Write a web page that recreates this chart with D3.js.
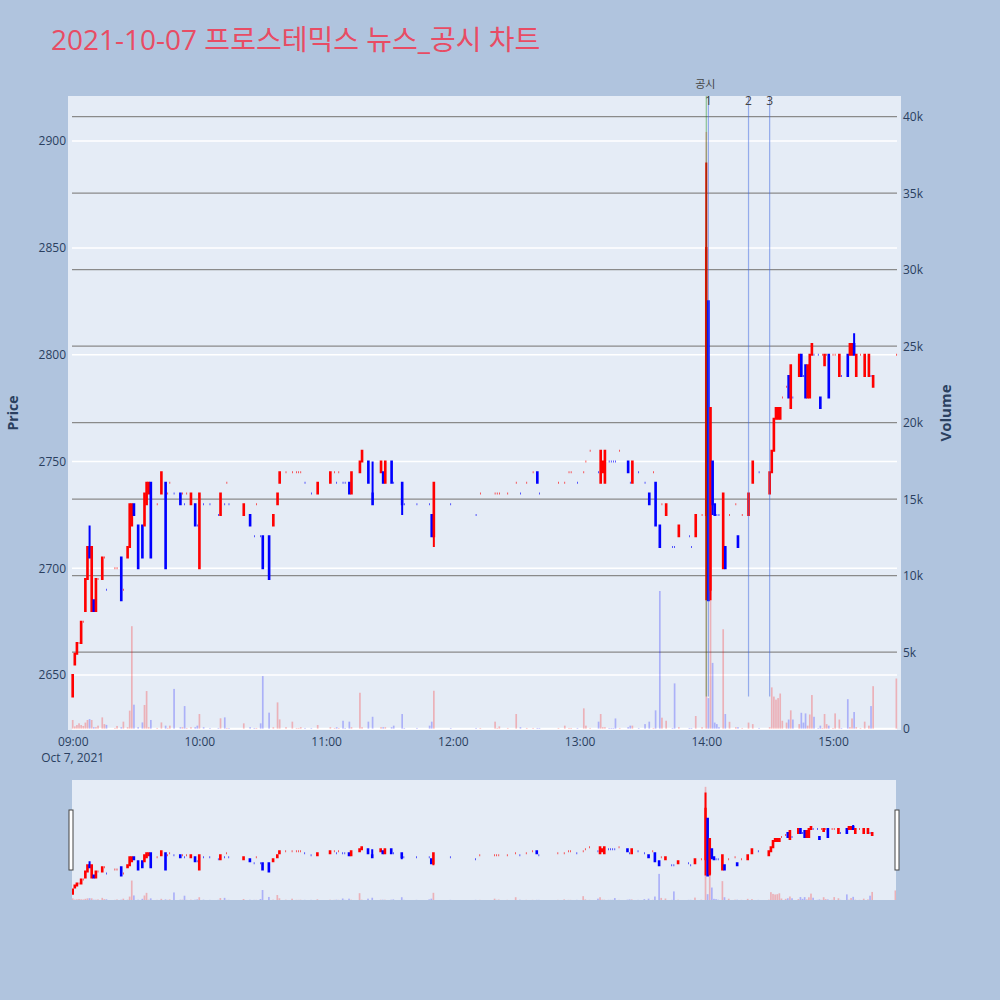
<!DOCTYPE html>
<html>
<head>
<meta charset="utf-8">
<script src="https://cdn.jsdelivr.net/npm/d3@7"></script>
<style>
  body { margin: 0; background: #b0c4de; }
  svg { display: block; font-family: "Open Sans", "Noto Sans CJK KR", sans-serif; }
</style>
</head>
<body>
<svg id="chart" width="1000" height="1000"></svg>
<script>
// minute offset from 09:00 for each traded minute
const minutes = [0,1,2,3,4,5,6,7,8,9,
  10,11,12,14,15,16,20,21,23,24,
  26,27,28,29,31,33,34,35,36,37,
  40,42,44,45,46,48,51,52,53,54,
  56,58,59,60,62,65,69,70,72,73,
  74,81,84,86,87,89,90,93,95,97,
  98,101,104,106,107,108,110,113,116,122,
  124,125,126,128,129,131,132,136,137,140,
  142,146,147,148,151,152,156,157,163,169,
  170,171,179,191,193,200,201,202,206,210,
  212,215,218,220,221,230,233,235,236,239,
  242,243,245,249,250,251,252,254,255,256,
  257,259,263,264,265,268,271,273,275,276,
  278,279,281,284,285,287,292,293,295,298,
  300,301,302,303,304,305,306,308,309,311,
  314,315,317,320,322,325,330,331,332,333,
  334,335,336,338,339,340,341,344,345,346,
  347,348,349,350,351,353,354,355,356,357,
  358,360,361,363,364,367,368,369,370,371,
  373,375,377,378,379,390];

const opens = [2640,2655,2660,2665,2665,2675,2680,2695,2710,2680,
  2685,2680,2695,2695,2705,2690,2700,2700,2705,2690,
  2705,2710,2720,2730,2720,2720,2720,2730,2735,2740,
  2730,2735,2740,2735,2740,2735,2735,2735,2730,2735,
  2730,2730,2720,2700,2730,2730,2725,2725,2730,2740,
  2730,2725,2725,2715,2730,2715,2715,2715,2720,2730,
  2740,2745,2745,2745,2745,2745,2740,2735,2735,2740,
  2745,2740,2745,2740,2740,2740,2735,2745,2750,2750,
  2735,2745,2745,2740,2750,2740,2740,2730,2730,2730,
  2725,2715,2730,2725,2735,2735,2735,2735,2735,2740,
  2735,2740,2745,2745,2735,2740,2740,2745,2745,2740,
  2745,2750,2755,2745,2740,2745,2740,2750,2750,2750,
  2750,2755,2750,2740,2740,2745,2740,2735,2745,2740,
  2720,2730,2725,2710,2710,2715,2715,2710,2715,2725,
  2725,2825,2690,2750,2730,2725,2725,2700,2710,2725,
  2730,2715,2725,2725,2740,2745,2735,2745,2755,2770,
  2770,2770,2780,2785,2790,2775,2780,2790,2800,2790,
  2795,2780,2780,2800,2800,2800,2780,2800,2795,2800,
  2800,2800,2800,2790,2790,2800,2800,2800,2805,2790,
  2800,2790,2790,2790,2785,2800];

const highs = [2650,2660,2665,2665,2675,2675,2695,2710,2720,2710,
  2685,2695,2695,2705,2705,2690,2700,2700,2705,2690,
  2710,2730,2730,2730,2720,2720,2735,2740,2740,2740,
  2730,2745,2740,2735,2740,2735,2735,2735,2730,2735,
  2735,2730,2720,2735,2730,2730,2725,2735,2730,2740,
  2730,2730,2725,2715,2730,2715,2715,2715,2725,2735,
  2745,2745,2745,2745,2745,2745,2740,2735,2740,2745,
  2745,2740,2745,2740,2740,2740,2745,2750,2755,2750,
  2750,2750,2745,2750,2750,2740,2740,2730,2730,2730,
  2725,2740,2730,2725,2735,2735,2735,2735,2735,2740,
  2735,2740,2745,2745,2735,2740,2740,2745,2745,2740,
  2745,2750,2755,2745,2755,2750,2755,2750,2750,2750,
  2750,2755,2750,2740,2750,2745,2740,2735,2745,2740,
  2720,2730,2730,2710,2710,2720,2715,2710,2725,2725,
  2890,2825,2775,2750,2730,2725,2725,2735,2710,2725,
  2730,2715,2725,2735,2750,2745,2745,2755,2770,2775,
  2775,2775,2780,2785,2790,2795,2780,2800,2800,2790,
  2795,2795,2800,2805,2800,2800,2780,2800,2800,2800,
  2800,2800,2800,2800,2790,2800,2805,2805,2810,2800,
  2800,2800,2800,2790,2790,2800];

const lows = [2640,2655,2660,2665,2665,2675,2680,2695,2705,2680,
  2680,2680,2695,2695,2705,2690,2700,2700,2685,2690,
  2705,2710,2720,2725,2700,2705,2720,2730,2735,2705,
  2730,2735,2700,2735,2740,2735,2730,2735,2730,2735,
  2730,2720,2720,2700,2730,2730,2725,2725,2730,2740,
  2730,2725,2720,2715,2730,2715,2700,2695,2720,2730,
  2740,2745,2745,2745,2745,2745,2740,2735,2735,2740,
  2745,2740,2745,2740,2740,2735,2735,2745,2750,2740,
  2730,2745,2740,2740,2740,2740,2725,2730,2730,2730,
  2715,2710,2730,2725,2735,2735,2735,2735,2735,2740,
  2735,2740,2745,2740,2735,2740,2740,2745,2745,2740,
  2745,2750,2755,2745,2740,2745,2740,2750,2750,2750,
  2750,2755,2745,2740,2740,2745,2740,2730,2745,2720,
  2710,2730,2725,2710,2710,2715,2715,2710,2715,2725,
  2685,2685,2685,2725,2725,2725,2725,2700,2700,2725,
  2730,2710,2725,2725,2740,2745,2735,2745,2755,2770,
  2770,2770,2780,2785,2780,2775,2780,2790,2790,2790,
  2780,2780,2780,2800,2800,2800,2775,2800,2795,2800,
  2780,2800,2800,2790,2790,2790,2800,2800,2800,2790,
  2800,2790,2790,2790,2785,2800];

const closes = [2650,2660,2665,2665,2675,2675,2695,2710,2705,2710,
  2680,2695,2695,2705,2705,2690,2700,2700,2685,2690,
  2710,2730,2730,2725,2700,2705,2735,2740,2740,2705,
  2730,2745,2700,2735,2740,2735,2730,2735,2730,2735,
  2735,2720,2720,2735,2730,2730,2725,2735,2730,2740,
  2730,2730,2720,2715,2730,2715,2700,2695,2725,2735,
  2745,2745,2745,2745,2745,2745,2740,2735,2740,2745,
  2745,2740,2745,2740,2740,2735,2745,2750,2755,2740,
  2730,2750,2740,2750,2740,2740,2730,2730,2730,2730,
  2715,2740,2730,2725,2735,2735,2735,2735,2735,2740,
  2735,2740,2745,2740,2735,2740,2740,2745,2745,2740,
  2745,2750,2755,2745,2755,2750,2755,2750,2750,2750,
  2750,2755,2745,2740,2750,2745,2740,2730,2745,2720,
  2710,2730,2730,2710,2710,2720,2715,2710,2725,2725,
  2850,2685,2775,2730,2725,2725,2725,2735,2700,2725,
  2730,2710,2725,2735,2750,2745,2745,2755,2770,2775,
  2775,2775,2780,2785,2780,2795,2780,2800,2790,2790,
  2780,2795,2800,2805,2800,2800,2775,2800,2800,2800,
  2780,2800,2800,2800,2790,2790,2805,2805,2800,2800,
  2800,2800,2800,2790,2790,2800];

// traded volume per minute, in thousands of shares
const volumesK = [0.57,0.15,0.24,0.35,0.24,0.18,0.40,0.57,0.63,0.57,
  0.10,0.10,0.20,0.74,0.30,0.25,0.05,0.18,0.10,0.46,
  0.10,1.18,6.70,1.57,0.10,0.41,1.55,2.46,0.10,0.57,
  0.05,0.41,0.20,0.05,0.20,2.60,0.10,0.10,1.48,0.05,
  0.10,0.10,0.20,0.96,0.10,0.05,0.05,0.68,0.74,0.05,
  0.05,0.35,0.10,0.05,0.05,0.35,3.44,1.05,0.10,1.72,
  0.61,0.10,0.46,0.05,0.05,0.10,0.05,0.05,0.24,0.10,
  0.05,0.10,0.05,0.52,0.05,0.46,0.10,2.35,0.10,0.46,
  0.78,0.10,0.10,0.10,0.10,0.20,0.96,0.05,0.05,0.20,
  0.46,2.48,0.05,0.05,0.05,0.46,0.05,0.15,0.05,0.96,
  0.10,0.05,0.05,0.05,0.05,0.05,0.20,0.05,0.05,0.05,
  1.33,0.20,0.05,0.46,0.96,0.10,0.10,0.05,0.05,0.05,
  0.67,0.05,0.10,0.20,0.20,0.05,0.30,0.46,0.05,1.20,
  9.00,0.72,0.52,0.05,2.96,0.10,0.05,0.05,0.83,0.10,
  39.0,2.00,9.00,4.30,0.40,0.30,0.10,6.50,0.96,0.45,
  0.10,0.10,0.05,0.40,0.30,0.05,0.10,2.70,2.10,1.90,
  2.00,2.30,0.52,0.40,0.60,1.20,0.60,0.30,1.04,0.40,
  1.00,0.20,0.93,2.20,0.78,0.05,0.20,0.05,0.96,0.30,
  0.20,0.05,1.00,0.60,0.05,1.93,0.10,0.67,1.09,0.10,
  0.05,0.46,0.20,1.48,2.78,3.28];

// disclosure (공시) and news markers
const noticeMinutes = [300];
const newsMinutes = [301, 320, 330];
const newsLabels = ["1", "2", "3"];

const priceTicks = [2650, 2700, 2750, 2800, 2850, 2900];
const volumeTicks = [0, 5, 10, 15, 20, 25, 30, 35, 40];
const hourTicks = [9, 10, 11, 12, 13, 14, 15];

const titleText = "2021-10-07 프로스테믹스 뉴스_공시 차트";

const svg = d3.select("#chart");
const t0 = new Date(2021, 9, 7, 9, 0);
const toTime = (m) => new Date(t0.getTime() + m * 60000);

// build candle rows, plotly-style direction (ties use previous close)
let prevClose = null, prevDir = 1;
const candles = minutes.map((m, i) => {
  let dir;
  if (closes[i] > opens[i]) dir = 1;
  else if (closes[i] < opens[i]) dir = -1;
  else if (prevClose !== null && closes[i] > prevClose) dir = 1;
  else if (prevClose !== null && closes[i] < prevClose) dir = -1;
  else dir = prevDir;
  prevClose = closes[i]; prevDir = dir;
  return { t: toTime(m), o: opens[i], h: highs[i], l: lows[i], c: closes[i], v: volumesK[i], dir };
});

const plot = { left: 68, right: 901, top: 96, bottom: 730, axL: 72, axR: 897 };
const slider = { left: 72, right: 896, top: 780, bottom: 900 };

const xDomain = [toTime(-0.33), toTime(390.3)];
const x = d3.scaleTime().domain(xDomain).range([plot.axL, plot.axR]);
const yPrice = d3.scaleLinear().domain([2624.3, 2921.1]).range([plot.bottom, plot.top]);
const yVol = d3.scaleLinear().domain([-0.085, 41.35]).range([plot.bottom, plot.top]);

const xs = d3.scaleTime().domain(xDomain).range([slider.left, slider.right]);
const ysPrice = d3.scaleLinear().domain(yPrice.domain()).range([slider.bottom, slider.top]);
const ysVol = d3.scaleLinear().domain([0, 41.35]).range([slider.bottom, slider.top]);

const upColor = "red", downColor = "blue";

// title
svg.append("text")
  .attr("x", 51).attr("y", 50)
  .attr("font-size", 28)
  .attr("fill", "#e84c64")
  .text(titleText);

// main panel
svg.append("rect")
  .attr("x", plot.left).attr("y", plot.top)
  .attr("width", plot.right - plot.left).attr("height", plot.bottom - plot.top)
  .attr("fill", "#e5ecf6");

svg.append("defs").append("clipPath").attr("id", "clipMain")
  .append("rect")
  .attr("x", plot.left).attr("y", plot.top)
  .attr("width", plot.right - plot.left).attr("height", plot.bottom - plot.top);

// price grid (white)
svg.append("g").selectAll("line").data(priceTicks).join("line")
  .attr("x1", plot.axL).attr("x2", plot.axR)
  .attr("y1", (d) => yPrice(d)).attr("y2", (d) => yPrice(d))
  .attr("stroke", "white").attr("stroke-width", 1.5);

// volume grid (gray) + white zero line
svg.append("g").selectAll("line").data(volumeTicks.filter((d) => d > 0)).join("line")
  .attr("x1", plot.axL).attr("x2", plot.axR)
  .attr("y1", (d) => yVol(d)).attr("y2", (d) => yVol(d))
  .attr("stroke", "#8a8a8a").attr("stroke-width", 1.3);
svg.append("line")
  .attr("x1", plot.axL).attr("x2", plot.axR)
  .attr("y1", yVol(0)).attr("y2", yVol(0))
  .attr("stroke", "white").attr("stroke-width", 2);

function drawVolume(g, xScale, yScale) {
  const bw = xScale(toTime(0.8)) - xScale(toTime(0));
  g.selectAll("rect").data(candles).join("rect")
    .attr("x", (d) => xScale(d.t) - bw / 2)
    .attr("width", bw)
    .attr("y", (d) => yScale(d.v))
    .attr("height", (d) => yScale(0) - yScale(d.v))
    .attr("fill", (d) => (d.dir > 0 ? upColor : downColor))
    .attr("fill-opacity", 0.25);
}

function drawCandles(g, xScale, yScale) {
  const hw = (xScale(toTime(0.3)) - xScale(toTime(0))) / 2;
  g.selectAll("path").data(candles).join("path")
    .attr("d", (d) => {
      const cx = xScale(d.t);
      const yo = yScale(d.o), yc = yScale(d.c);
      const top = Math.min(yo, yc), bot = Math.max(yo, yc);
      return `M${cx - hw},${yo}H${cx + hw}V${yc}H${cx - hw}Z` +
        `M${cx},${yScale(d.l)}V${bot}M${cx},${yScale(d.h)}V${top}`;
    })
    .attr("stroke", (d) => (d.dir > 0 ? upColor : downColor))
    .attr("fill", (d) => (d.dir > 0 ? upColor : downColor))
    .attr("stroke-width", 2);
}

const main = svg.append("g").attr("clip-path", "url(#clipMain)");
drawVolume(main.append("g"), x, yVol);
drawCandles(main.append("g"), x, yPrice);

// marker lines
const markers = main.append("g");
markers.selectAll("line.notice").data(noticeMinutes).join("line")
  .attr("class", "notice")
  .attr("x1", (d) => x(toTime(d))).attr("x2", (d) => x(toTime(d)))
  .attr("y1", yPrice(2640)).attr("y2", plot.top)
  .attr("stroke", "green").attr("stroke-opacity", 0.4).attr("stroke-width", 1.2);
markers.selectAll("line.news").data(newsMinutes).join("line")
  .attr("class", "news")
  .attr("x1", (d) => x(toTime(d))).attr("x2", (d) => x(toTime(d)))
  .attr("y1", yPrice(2640)).attr("y2", plot.top)
  .attr("stroke", "royalblue").attr("stroke-opacity", 0.5).attr("stroke-width", 1.2);

svg.append("g").selectAll("text").data(noticeMinutes).join("text")
  .attr("x", (d) => x(toTime(d)) - 1).attr("y", 88)
  .attr("text-anchor", "middle").attr("font-size", 11).attr("fill", "#444")
  .text("공시");
svg.append("g").selectAll("text").data(newsMinutes).join("text")
  .attr("x", (d) => x(toTime(d))).attr("y", 105)
  .attr("text-anchor", "middle").attr("font-size", 12).attr("fill", "#444")
  .text((d, i) => newsLabels[i]);

// axes
const axisColor = "#2a3f5f";
const gx = svg.append("g")
  .attr("transform", `translate(0,${plot.bottom})`)
  .call(d3.axisBottom(x)
    .tickValues(hourTicks.map((h) => new Date(2021, 9, 7, h, 0)))
    .tickFormat(d3.timeFormat("%H:%M"))
    .tickSize(0).tickPadding(7));
const gy = svg.append("g")
  .attr("transform", `translate(${plot.left},0)`)
  .call(d3.axisLeft(yPrice).tickValues(priceTicks).tickFormat(d3.format("d"))
    .tickSize(0).tickPadding(2));
const gy2 = svg.append("g")
  .attr("transform", `translate(${plot.right},0)`)
  .call(d3.axisRight(yVol).tickValues(volumeTicks)
    .tickFormat((d) => (d === 0 ? "0" : d + "k")).tickSize(0).tickPadding(2));
[gx, gy, gy2].forEach((g) => {
  g.select(".domain").remove();
  g.selectAll("text")
    .attr("font-size", 12).attr("fill", axisColor)
    .attr("font-family", '"Open Sans", sans-serif');
});

svg.append("text")
  .attr("x", x(toTime(0))).attr("y", 762)
  .attr("text-anchor", "middle").attr("font-size", 12).attr("fill", axisColor)
  .text("Oct 7, 2021");

svg.append("text")
  .attr("transform", "translate(18,413) rotate(-90)")
  .attr("text-anchor", "middle").attr("font-size", 14).attr("font-weight", "bold")
  .attr("fill", axisColor)
  .text("Price");
svg.append("text")
  .attr("transform", "translate(951,413) rotate(-90)")
  .attr("text-anchor", "middle").attr("font-size", 15).attr("font-weight", "bold")
  .attr("fill", axisColor)
  .text("Volume");

// range slider
svg.append("rect")
  .attr("x", slider.left).attr("y", slider.top)
  .attr("width", slider.right - slider.left).attr("height", slider.bottom - slider.top)
  .attr("fill", "#e5ecf6");
svg.append("defs").append("clipPath").attr("id", "clipSlider")
  .append("rect")
  .attr("x", slider.left).attr("y", slider.top)
  .attr("width", slider.right - slider.left).attr("height", slider.bottom - slider.top);
const sl = svg.append("g").attr("clip-path", "url(#clipSlider)");
drawVolume(sl.append("g"), xs, ysVol);
drawCandles(sl.append("g"), xs, ysPrice);

const mid = (slider.top + slider.bottom) / 2;
svg.append("g").selectAll("rect").data([slider.left - 1, slider.right + 1]).join("rect")
  .attr("x", (d) => d - 2).attr("y", mid - 30)
  .attr("width", 4).attr("height", 60)
  .attr("fill", "white").attr("stroke", "#444").attr("stroke-width", 1);
</script>
</body>
</html>
